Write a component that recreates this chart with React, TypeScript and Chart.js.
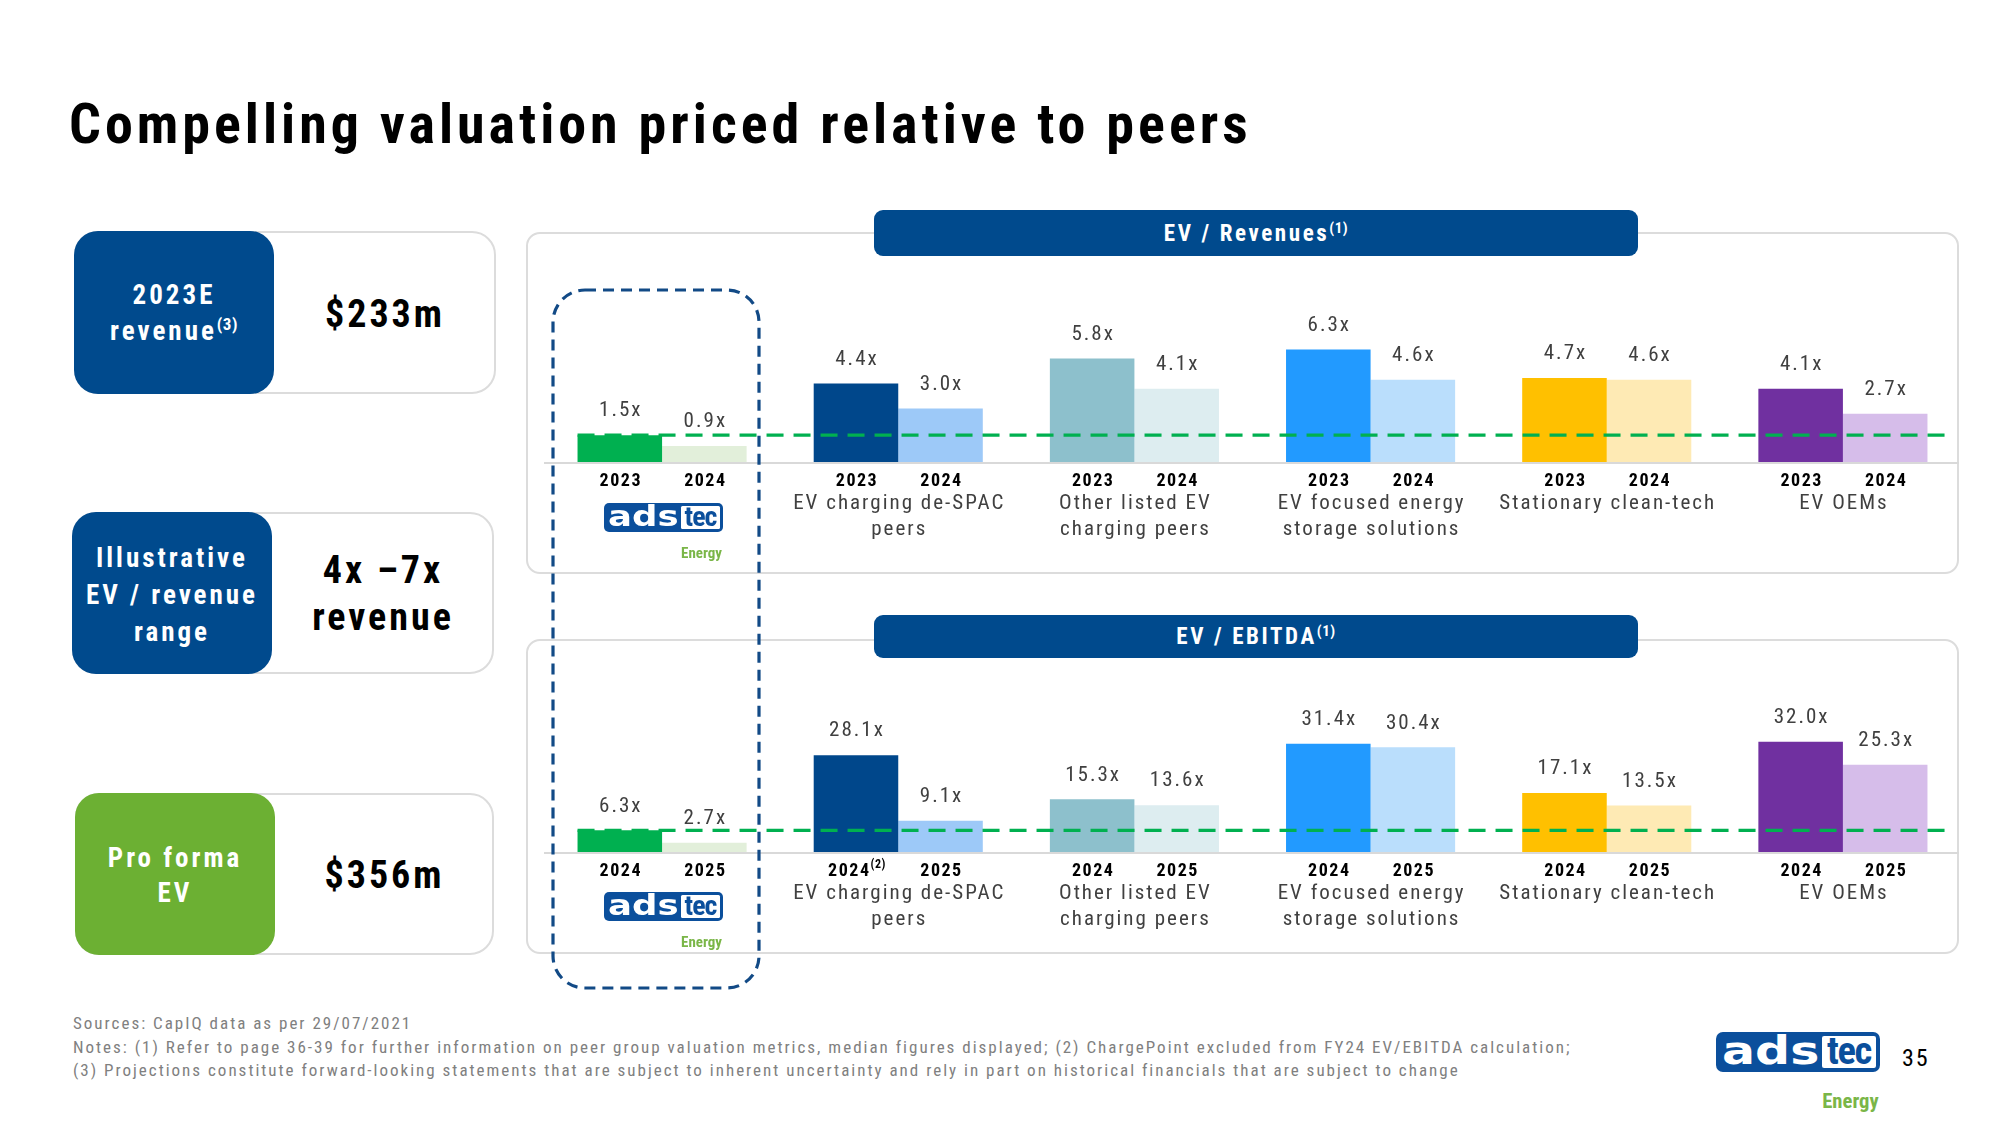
import React, { useEffect, useRef } from "react";
import { Chart, registerables } from "chart.js";

Chart.register(...registerables);

const NARROW = "'Liberation Sans Narrow', 'Arial Narrow', 'Roboto Condensed', sans-serif";

// ---------------- data ----------------
const peerGroups = [
  "ADS-TEC Energy",
  "EV charging de-SPAC peers",
  "Other listed EV charging peers",
  "EV focused energy storage solutions",
  "Stationary clean-tech",
  "EV OEMs",
];
const peerGroupLines: string[][] = [
  [],
  ["EV charging de-SPAC", "peers"],
  ["Other listed EV", "charging peers"],
  ["EV focused energy", "storage solutions"],
  ["Stationary clean-tech"],
  ["EV OEMs"],
];

const revenueYears = ["2023", "2024"];
const revenue2023 = [1.5, 4.4, 5.8, 6.3, 4.7, 4.1];
const revenue2024 = [0.9, 3.0, 4.1, 4.6, 4.6, 2.7];
const revenueYearNotes = ["", "", "", "", "", ""];

const ebitdaYears = ["2024", "2025"];
const ebitda2024 = [6.3, 28.1, 15.3, 31.4, 17.1, 32.0];
const ebitda2025 = [2.7, 9.1, 13.6, 30.4, 13.5, 25.3];
const ebitdaYearNotes = ["", "(2)", "", "", "", ""];

const darkColors = ["#00B050", "#00478B", "#8DC0CC", "#229AFF", "#FFC000", "#7030A0"];
const lightColors = ["#E2EFDA", "#9DC9F8", "#DDEDF0", "#BADEFC", "#FEEAB4", "#D6BDEA"];

const footerLines = [
  "Sources: CapIQ data as per 29/07/2021",
  "Notes: (1) Refer to page 36-39 for further information on peer group valuation metrics, median figures displayed; (2) ChargePoint excluded from FY24 EV/EBITDA calculation;",
  "(3) Projections constitute forward-looking statements that are subject to inherent uncertainty and rely in part on historical financials that are subject to change",
];

// ---------------- plugin ----------------
const slidePlugin = {
  id: "slideLabels",
  beforeDatasetsDraw(chart: any) {
    const { ctx, chartArea, scales } = chart;
    const y0 = scales.y.getPixelForValue(0);
    ctx.save();
    ctx.strokeStyle = "#D9D9D9";
    ctx.lineWidth = 2;
    ctx.beginPath();
    ctx.moveTo(chartArea.left - 1, y0 + 1);
    ctx.lineTo(chartArea.right - 2, y0 + 1);
    ctx.stroke();
    ctx.restore();
  },
  afterDatasetsDraw(chart: any, _args: any, opts: any) {
    const { ctx, chartArea, scales } = chart;
    const x = scales.x;
    const y = scales.y;
    const y0 = y.getPixelForValue(0);
    ctx.save();
    // reference dashed line at ADS-TEC level
    const firstBar = chart.getDatasetMeta(0).data[0];
    const yRef = y.getPixelForValue(opts.refValue);
    ctx.strokeStyle = "#00B050";
    ctx.lineWidth = 3.2;
    ctx.setLineDash([17, 10]);
    ctx.beginPath();
    ctx.moveTo(firstBar.x - firstBar.width / 2, yRef);
    ctx.lineTo(chartArea.right - 13, yRef);
    ctx.stroke();
    ctx.setLineDash([]);

    // value labels
    ctx.textAlign = "center";
    ctx.textBaseline = "middle";
    ctx.font = `21px ${NARROW}`;
    ctx.fillStyle = "#404040";
    ctx.letterSpacing = "2px";
    [0, 1].forEach((di) => {
      const meta = chart.getDatasetMeta(di);
      const vals = chart.data.datasets[di].data;
      meta.data.forEach((bar: any, i: number) => {
        ctx.fillText(Number(vals[i]).toFixed(1) + "x", bar.x + 1, bar.y - 24);
      });
    });

    // year labels
    ctx.fillStyle = "#000000";
    ctx.textAlign = "left";
    [0, 1].forEach((di) => {
      const meta = chart.getDatasetMeta(di);
      meta.data.forEach((bar: any, i: number) => {
        const main = opts.years[di];
        const note = di === 0 ? opts.notes[i] : "";
        ctx.font = `bold 18px ${NARROW}`;
        ctx.letterSpacing = "1.5px";
        const w1 = ctx.measureText(main).width;
        ctx.font = `bold 12px ${NARROW}`;
        ctx.letterSpacing = "0.5px";
        const w2 = note ? ctx.measureText(note).width : 0;
        const start = bar.x - (w1 + w2) / 2 + 1;
        ctx.font = `bold 18px ${NARROW}`;
        ctx.letterSpacing = "1.5px";
        ctx.fillText(main, start, y0 + 19);
        if (note) {
          ctx.font = `bold 12px ${NARROW}`;
          ctx.letterSpacing = "0.5px";
          ctx.fillText(note, start + w1, y0 + 13);
        }
      });
    });

    // group (category) labels
    ctx.textAlign = "center";
    ctx.font = `21px ${NARROW}`;
    ctx.letterSpacing = "2px";
    ctx.fillStyle = "#404040";
    opts.lines.forEach((lines: string[], i: number) => {
      const cx = x.getPixelForValue(i);
      lines.forEach((ln, k) => {
        ctx.fillText(ln, cx + 1, y0 + 42 + k * 25.5);
      });
    });
    ctx.restore();
  },
};

// ---------------- components ----------------
function BarPanel(props: {
  left: number; top: number; width: number; height: number;
  padTop: number; padBottom: number; yMax: number;
  first: number[]; second: number[]; years: string[]; notes: string[];
}) {
  const ref = useRef<HTMLCanvasElement>(null);
  useEffect(() => {
    const chart = new Chart(ref.current as HTMLCanvasElement, {
      type: "bar",
      data: {
        labels: peerGroups,
        datasets: [
          { label: props.years[0], data: props.first, backgroundColor: darkColors, borderWidth: 0 },
          { label: props.years[1], data: props.second, backgroundColor: lightColors, borderWidth: 0 },
        ],
      },
      options: {
        responsive: false,
        maintainAspectRatio: false,
        animation: false,
        devicePixelRatio: 1,
        layout: { padding: { top: props.padTop, bottom: props.padBottom, left: 0, right: 0 } },
        datasets: { bar: { barPercentage: 1, categoryPercentage: 0.716 } },
        scales: {
          x: { display: false },
          y: { display: false, min: 0, max: props.yMax },
        },
        plugins: {
          legend: { display: false },
          tooltip: { enabled: false },
          slideLabels: {
            refValue: props.first[0],
            years: props.years,
            notes: props.notes,
            lines: peerGroupLines,
          },
        } as any,
      },
      plugins: [slidePlugin as any],
    });
    return () => chart.destroy();
  }, []);
  return (
    <canvas
      ref={ref}
      width={props.width}
      height={props.height}
      style={{ position: "absolute", left: props.left, top: props.top, width: props.width, height: props.height }}
    />
  );
}

function Logo({ left, top, w }: { left: number; top: number; w: number }) {
  const s = w / 119;
  const h = 29 * s;
  return (
    <div style={{ position: "absolute", left, top, width: w, height: h + 26 * s }}>
      <div style={{ position: "absolute", left: 0, top: 0, width: w, height: h, background: "#0B4F9C", borderRadius: 5 * s }} />
      <div
        style={{
          position: "absolute", left: 4 * s, top: -4.2 * s, fontFamily: "'DejaVu Sans', sans-serif", fontWeight: "bold",
          fontSize: 28 * s, lineHeight: `${36 * s}px`, color: "#fff", letterSpacing: "0px",
          transform: "scaleX(1.27)", transformOrigin: "left center", whiteSpace: "nowrap",
        }}
      >
        ads
      </div>
      <div style={{ position: "absolute", left: 77 * s, top: 3 * s, width: 39 * s, height: h - 6 * s, background: "#fff", borderRadius: 1.5 * s }} />
      <div
        style={{
          position: "absolute", left: 77 * s, top: -2.5 * s, width: 39 * s, textAlign: "center", fontFamily: NARROW, fontWeight: "bold",
          fontSize: 28 * s, lineHeight: `${32 * s}px`, color: "#0B4F9C", letterSpacing: `${-1 * s}px`, whiteSpace: "nowrap",
        }}
      >
        tec
      </div>
      <div
        style={{
          position: "absolute", right: 1 * s, top: h + 12 * s, fontFamily: NARROW, fontWeight: "bold", fontSize: 15 * s,
          lineHeight: `${18 * s}px`, color: "#7AB648", whiteSpace: "nowrap",
        }}
      >
        Energy
      </div>
    </div>
  );
}

function InfoBox(props: {
  top: number; height: number; blueLeft: number; blueW: number; right: number; color: string;
  label: React.ReactNode; labelLH: number; value: React.ReactNode; valueLH: number;
}) {
  const { top, height, blueLeft, blueW, right, color } = props;
  return (
    <>
      <div
        style={{
          position: "absolute", left: blueLeft, top, width: right - blueLeft, height, boxSizing: "border-box",
          border: "2px solid #DCDCDC", borderRadius: 24, background: "#fff",
        }}
      />
      <div
        style={{
          position: "absolute", left: blueLeft, top, width: blueW, height, background: color, borderRadius: 24,
          display: "flex", alignItems: "center", justifyContent: "center", textAlign: "center",
          fontFamily: NARROW, fontWeight: "bold", fontSize: 27, lineHeight: `${props.labelLH}px`, letterSpacing: "3px",
          color: "#fff", paddingTop: 4, boxSizing: "border-box",
        }}
      >
        <div>{props.label}</div>
      </div>
      <div
        style={{
          position: "absolute", left: blueLeft + blueW, top, width: right - blueLeft - blueW, height,
          display: "flex", alignItems: "center", justifyContent: "center", textAlign: "center",
          fontFamily: NARROW, fontWeight: "bold", fontSize: 38, lineHeight: `${props.valueLH}px`, letterSpacing: "3px",
          color: "#000", paddingTop: 2, boxSizing: "border-box",
        }}
      >
        <div>{props.value}</div>
      </div>
    </>
  );
}

function Banner({ top, height, text }: { top: number; height: number; text: string }) {
  return (
    <div
      style={{
        position: "absolute", left: 874, top, width: 764, height, background: "#004A8D", borderRadius: 9,
        display: "flex", alignItems: "center", justifyContent: "center", color: "#fff",
        fontFamily: NARROW, fontWeight: "bold", fontSize: 23, letterSpacing: "2.6px", whiteSpace: "nowrap",
      }}
    >
      <span>
        {text}
        <span style={{ fontSize: 15, position: "relative", top: -8, letterSpacing: "0.5px" }}>(1)</span>
      </span>
    </div>
  );
}

export default function App() {
  const sup = (t: string) => (
    <span style={{ fontSize: 17, position: "relative", top: -10, letterSpacing: "0.5px" }}>{t}</span>
  );
  return (
    <div style={{ position: "absolute", left: 0, top: 0, width: 2000, height: 1125, background: "#fff", overflow: "hidden" }}>
      {/* title */}
      <div
        style={{
          position: "absolute", left: 69, top: 96, fontFamily: NARROW, fontWeight: "bold", fontSize: 56,
          lineHeight: "56px", letterSpacing: "4px", color: "#000", whiteSpace: "nowrap",
        }}
      >
        Compelling valuation priced relative to peers
      </div>

      {/* left info boxes */}
      <InfoBox
        top={231} height={163} blueLeft={74} blueW={200} right={496} color="#004A8D" labelLH={36} valueLH={46}
        label={<>2023E<br />revenue{sup("(3)")}</>}
        value={<>$233m</>}
      />
      <InfoBox
        top={512} height={162} blueLeft={72} blueW={200} right={494} color="#004A8D" labelLH={37} valueLH={47}
        label={<>Illustrative<br />EV / revenue<br />range</>}
        value={<>4x –7x<br />revenue</>}
      />
      <InfoBox
        top={793} height={162} blueLeft={75} blueW={200} right={494} color="#6CB033" labelLH={35} valueLH={46}
        label={<>Pro forma<br />EV</>}
        value={<>$356m</>}
      />

      {/* chart panels */}
      <div style={{ position: "absolute", left: 526, top: 232, width: 1433, height: 342, boxSizing: "border-box", border: "2px solid #DCDCDC", borderRadius: 14 }} />
      <div style={{ position: "absolute", left: 526, top: 639, width: 1433, height: 315, boxSizing: "border-box", border: "2px solid #DCDCDC", borderRadius: 14 }} />

      <BarPanel
        left={544} top={300} width={1417} height={250} padTop={37} padBottom={88} yMax={7}
        first={revenue2023} second={revenue2024} years={revenueYears} notes={revenueYearNotes}
      />
      <BarPanel
        left={544} top={700} width={1417} height={250} padTop={28} padBottom={98} yMax={36}
        first={ebitda2024} second={ebitda2025} years={ebitdaYears} notes={ebitdaYearNotes}
      />

      <Banner top={210} height={46} text="EV / Revenues" />
      <Banner top={615} height={43} text="EV / EBITDA" />

      <Logo left={604} top={503} w={119} />
      <Logo left={604} top={892} w={119} />

      {/* dashed ADS-TEC highlight */}
      <svg style={{ position: "absolute", left: 550, top: 288, overflow: "visible" }} width={212} height={704}>
        <rect x={3} y={2} width={206} height={698} rx={32} ry={32} fill="none" stroke="#124A86" strokeWidth={3.2} strokeDasharray="11 7" />
      </svg>

      {/* footer */}
      {footerLines.map((t, i) => (
        <div
          key={i}
          style={{
            position: "absolute", left: 73, top: [1013, 1037, 1060][i], fontFamily: NARROW, fontSize: 17,
            lineHeight: "20px", letterSpacing: "2px", color: "#808080", whiteSpace: "nowrap",
          }}
        >
          {t}
        </div>
      ))}
      <Logo left={1716} top={1032} w={164} />
      <div
        style={{
          position: "absolute", left: 1902, top: 1044, fontFamily: NARROW, fontSize: 24, lineHeight: "28px",
          letterSpacing: "2px", color: "#000",
        }}
      >
        35
      </div>
    </div>
  );
}
